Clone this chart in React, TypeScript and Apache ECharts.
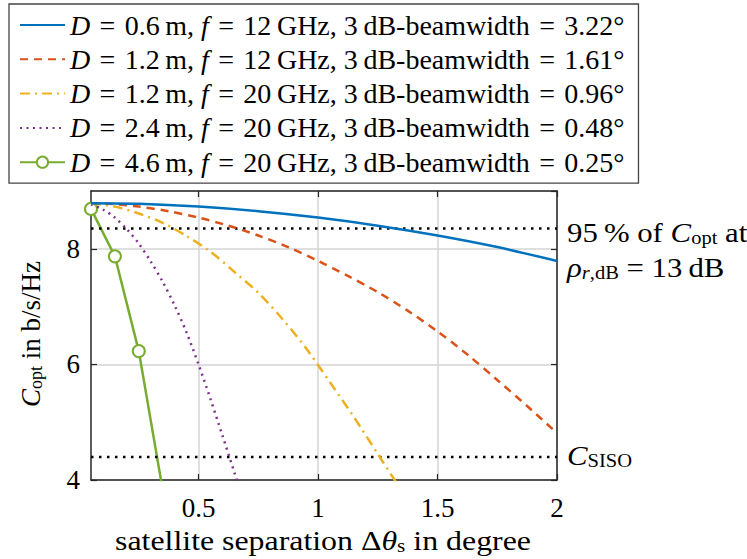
import React, { useEffect, useRef } from "react";
import * as echarts from "echarts";

// Antenna configurations
const dishDiameter = ["0.6", "1.2", "1.2", "2.4", "4.6"];
const carrierGHz = ["12", "12", "20", "20", "20"];
const beamwidthDeg = ["3.22", "1.61", "0.96", "0.48", "0.25"];

// Satellite separation (degree) and optimal capacity (b/s/Hz) per configuration
const sepBlue = [0.05, 0.25, 0.5, 0.75, 1.0, 1.25, 1.5, 1.75, 2.0];
const capBlue = [8.79, 8.78, 8.73, 8.65, 8.54, 8.4, 8.23, 8.03, 7.79];

const sepOrange = [0.05, 0.125, 0.25, 0.375, 0.5, 0.625, 0.75, 0.875, 1.0, 1.125, 1.25, 1.375, 1.5, 1.625, 1.75, 1.875, 2.0];
const capOrange = [8.79, 8.78, 8.73, 8.65, 8.54, 8.4, 8.23, 8.03, 7.79, 7.53, 7.25, 6.93, 6.57, 6.17, 5.73, 5.28, 4.81];

const sepYellow = [0.05, 0.15, 0.25, 0.35, 0.45, 0.55, 0.65, 0.75, 0.85, 0.95, 1.05, 1.15, 1.25, 1.35];
const capYellow = [8.785, 8.73, 8.61, 8.45, 8.22, 7.95, 7.6, 7.24, 6.79, 6.28, 5.69, 5.09, 4.45, 3.81];

const sepPurple = [0.05, 0.1, 0.15, 0.2, 0.25, 0.3, 0.35, 0.4, 0.45, 0.5, 0.55, 0.6, 0.65, 0.7];
const capPurple = [8.77, 8.68, 8.54, 8.34, 8.09, 7.78, 7.43, 7.02, 6.55, 6.0, 5.4, 4.77, 4.13, 3.47];

const sepGreen = [0.05, 0.15, 0.25, 0.35];
const capGreen = [8.69, 7.87, 6.23, 3.83];

// Reference levels
const capRef95 = 8.35;
const capSiso = 4.4;

const xTicks = [0.5, 1, 1.5, 2];
const xMin = 0.05;
const xMax = 2;

const FONT = "'Liberation Serif', 'DejaVu Serif', serif";
const colors = ["#0072BD", "#D95319", "#EDB120", "#7E2F8E", "#77AC30"];

const zip = (xs: number[], ys: number[]) => xs.map((x, i) => [x, ys[i]]);

const seriesName = (i: number) =>
  `D = ${dishDiameter[i]} m, f = ${carrierGHz[i]} GHz, 3 dB-beamwidth = ${beamwidthDeg[i]}°`;

const EQ = "\u2004=\u2004";
const legendLabel = (i: number) =>
  `{i|D}${EQ}${dishDiameter[i]}\u2009m, {i|f}${EQ}${carrierGHz[i]}\u2009GHz, 3\u2009dB-beamwidth${EQ}${beamwidthDeg[i]}°`;

const makeRich = (size: number) => ({
  i: { fontStyle: "italic", fontFamily: FONT, fontSize: size, color: "#000" },
  sub: { fontFamily: FONT, fontSize: Math.round(size * 0.68), color: "#000", verticalAlign: "bottom", lineHeight: 18 },
  subi: { fontFamily: FONT, fontStyle: "italic", fontSize: Math.round(size * 0.68), color: "#000", verticalAlign: "bottom", lineHeight: 18 },
});

export default function App() {
  const ref = useRef<HTMLDivElement>(null);

  useEffect(() => {
    document.body.style.margin = "0";
    const chart = echarts.init(ref.current!, null, { renderer: "svg" });

    const curves = [
      { x: sepBlue, y: capBlue, type: "solid" as any },
      { x: sepOrange, y: capOrange, type: [8, 6] },
      { x: sepYellow, y: capYellow, type: [10, 5, 2, 5] },
      { x: sepPurple, y: capPurple, type: [2, 4.5] },
      { x: sepGreen, y: capGreen, type: "solid" as any },
    ];

    const names = curves.map((_, i) => seriesName(i));

    const series: any[] = curves.map((c, i) => ({
      name: names[i],
      type: "line",
      data: zip(c.x, c.y),
      smooth: i === 4 ? false : 0.3,
      symbol: i === 4 ? "emptyCircle" : "none",
      symbolSize: 12,
      showSymbol: i === 4,
      itemStyle: { color: colors[i], borderWidth: 2.5 },
      lineStyle: { color: colors[i], width: 2.5, type: c.type },
      clip: true,
      z: 5 - i,
    }));

    [capRef95, capSiso].forEach((v, k) => {
      series.push({
        name: k === 0 ? "ref95" : "siso",
        type: "line",
        data: [
          [xMin, v],
          [xMax, v],
        ],
        symbol: "none",
        lineStyle: { color: "#000", width: 2.5, type: [2.5, 5.5] },
        z: 1,
      });
    });

    const rich27 = makeRich(27);
    const rich28 = makeRich(28);

    const axisCommon = {
      type: "value",
      axisLine: { show: true, lineStyle: { color: "#262626", width: 1.5 } },
      axisTick: { show: true, inside: true, length: 6, lineStyle: { color: "#262626", width: 1.2 } },
      splitLine: { show: false },
    };

    // free-standing texts, widened slightly to follow the typeset look
    const note = (x: number, y: number, text: string, extra: any = {}) => ({
      type: "text",
      x,
      y,
      scaleX: 1.14,
      ...extra,
      style: {
        x: 0,
        y: 0,
        text,
        fontFamily: FONT,
        fontSize: 27,
        fill: "#000",
        verticalAlign: "middle",
        rich: rich27,
        ...(extra.style || {}),
      },
    });

    chart.setOption({
      animation: false,
      backgroundColor: "#fff",
      grid: { left: 91, right: 190, top: 191, bottom: 79, outerBoundsMode: "none", containLabel: false },
      legend: {
        data: names.map((n, i) => ({
          name: n,
          itemStyle: i === 4 ? undefined : { color: "rgba(0,0,0,0)", borderColor: "rgba(0,0,0,0)", opacity: 0 },
        })),
        orient: "vertical",
        left: 9,
        top: 4,
        padding: [6, 14, 6, 10],
        itemWidth: 45,
        itemHeight: 14,
        itemGap: 4.3,
        backgroundColor: "#fff",
        borderColor: "#444",
        borderWidth: 1.3,
        borderRadius: 0,
        selectedMode: false,
        formatter: (name: string) => legendLabel(names.indexOf(name)),
        textStyle: {
          fontFamily: FONT,
          fontSize: 28,
          color: "#000",
          lineHeight: 30,
          rich: rich28,
        },
      },
      xAxis: [
        {
          ...axisCommon,
          position: "bottom",
          min: xMin,
          max: xMax,
          axisTick: { ...axisCommon.axisTick, customValues: xTicks },
          axisLabel: {
            customValues: xTicks,
            fontFamily: FONT,
            fontSize: 27,
            color: "#000",
            margin: 14,
            formatter: (v: number) => String(v),
          },
          splitLine: { show: true, lineStyle: { color: "#d4d4d4", width: 1.5 } },
        },
        {
          ...axisCommon,
          position: "top",
          min: xMin,
          max: xMax,
          axisTick: { ...axisCommon.axisTick, customValues: xTicks },
          axisLabel: { show: false, customValues: xTicks },
        },
      ],
      yAxis: [
        {
          ...axisCommon,
          position: "left",
          min: 4,
          max: 9,
          interval: 2,
          axisLabel: { fontFamily: FONT, fontSize: 27, color: "#000", margin: 11, showMaxLabel: false },
          splitLine: { show: true, lineStyle: { color: "#d4d4d4", width: 1.5 } },
        },
        {
          ...axisCommon,
          position: "right",
          min: 4,
          max: 9,
          interval: 2,
          axisLabel: { show: false },
        },
      ],
      graphic: [
        note(567, 233, "95\u2009% of {i|C}{sub|opt} at"),
        note(567, 268, "{i|\u03c1}{subi|r}{sub|,dB} = 13\u2009dB"),
        note(567, 456, "{i|C}{sub|SISO}"),
        // axis titles
        note(323, 541, "satellite separation \u0394{i|\u03b8}{sub|s} in degree", {
          scaleX: 1.18,
          style: { align: "center" },
        }),
        note(31, 334, "{i|C}{sub|opt} in b/s/Hz", {
          scaleX: 1.0,
          rotation: Math.PI / 2,
          style: { align: "center" },
        }),
      ],
      series,
    });

    return () => chart.dispose();
  }, []);

  return (
    <div
      ref={ref}
      style={{ position: "fixed", left: 0, top: 0, width: 747, height: 559 }}
    />
  );
}
